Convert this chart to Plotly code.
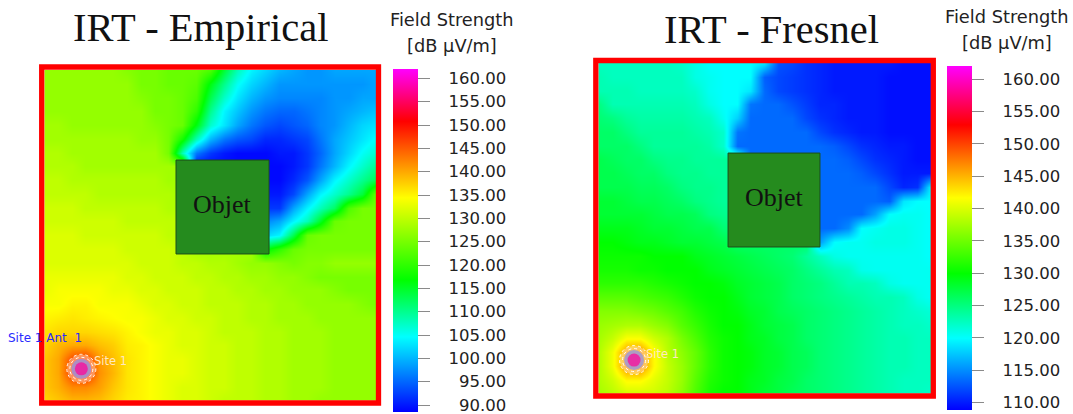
import plotly.graph_objects as go

W, H = 1073, 414
EMPIRICAL_TITLE = "IRT - Empirical"
FRESNEL_TITLE = "IRT - Fresnel"
COLORBAR_LINES = ["Field Strength", "[dB μV/m]"]

empirical_z = [
 [127,127,127,127,127,127,126,125,125,124,124,124,122,114,108,104,102,100,99,98,98,99,99,99,99],
 [127,127,127,127,127,127,127,125,125,124,124,123,116,110,105,102,100,98,98,98,98,98,98,98,99],
 [127,127,127,127,127,127,127,126,125,125,124,122,113,107,103,100,98,97,97,97,97,98,98,99,99],
 [127,127,127,127,127,127,127,127,125,125,124,120,110,104,101,98,96,95,95,96,97,98,99,100,101],
 [128,128,127,127,127,127,127,127,126,125,124,116,107,103,99,96,94,93,94,95,97,98,100,102,103],
 [128,128,128,128,128,128,128,127,127,125,118,108,100,96,94,93,91,91,92,93,96,99,101,103,105],
 [129,129,128,128,128,128,128,128,128,125,108,96,92,90,89,89,89,90,90,92,95,99,102,105,107],
 [129,129,129,128,128,128,128,128,128,128,128,89,89,89,89,89,89,89,90,92,96,100,104,107,110],
 [130,130,129,129,129,129,129,129,129,128,128,89,89,89,89,89,89,89,91,94,99,104,107,110,113],
 [130,130,130,130,129,129,129,129,129,129,128,90,90,90,90,90,90,90,93,99,104,107,110,114,124],
 [131,131,131,130,130,130,130,130,130,129,129,92,92,92,92,92,92,92,99,104,108,112,122,125,125],
 [131,131,131,131,131,131,130,130,130,130,130,97,97,97,97,97,97,99,104,108,115,124,125,125,125],
 [132,132,132,131,131,131,131,131,131,130,130,102,102,102,102,102,102,104,113,124,125,125,125,125,125],
 [132,132,132,132,132,132,131,131,131,131,130,128,128,128,128,128,116,120,124,125,125,125,125,125,125],
 [132,132,132,132,132,132,132,131,131,131,130,130,129,129,128,127,127,126,125,126,126,127,127,127,127],
 [133,133,133,133,133,133,132,132,131,131,131,130,130,129,129,128,128,127,127,126,125,125,125,125,125],
 [133,134,134,134,134,133,133,132,132,131,131,131,130,130,129,129,128,128,127,127,127,126,125,125,125],
 [134,134,135,135,134,134,134,133,132,132,131,131,130,130,130,129,129,128,128,127,127,127,127,126,125],
 [135,135.5,136,135.5,135,134.5,134,134,133,132,132,131,131,130,130,129,129,128,128,128,127,127,127,127,127],
 [136,137,137,137,136.5,136,135,134,133,133,132,132,131,130,130,130,129,129,128,128,128,127,127,127,127],
 [137,139,140,140,138.5,137.5,135.5,135,134,133,132,132,131,131,130,130,129,129,128,128,128,127,127,127,127],
 [138,140,146,147,141,138.5,136,135,134,133,133,132,131,131,130,130,129,129,128,128,128,127,127,127,127],
 [138,140,147,149,141.5,139,136,135,134,133,133,132,131,131,130,130,129,129,128,128,128,127,127,127,127],
 [138,139.5,142,142,140.5,138,136,135,134,133,132,132,131,131,130,130,129,129,128,128,128,127,127,127,127],
 [137,138,139,139,138.5,137,135.5,135,134,133,132,132,131,130,130,130,129,129,128,128,127,127,127,127,127],
]

fresnel_z = [
 [122.5,122.5,122.5,122.5,122.5,122.5,122,121,120,120,120,120,119,112.5,112,111,110.5,110,110,110,110,110,109.5,109.5,109.5],
 [123,122.5,122.5,122.5,122.5,122.5,122.5,121,120.5,120,120,120,113,112,111.5,111,110.5,110,110,110,110,109.5,109.5,109.5,109.5],
 [123,123,123,122.5,122.5,122.5,122.5,122,120.5,120,120,119,113.5,112,111.5,111,110.5,110,110,110,110,109.5,109.5,109.5,109.5],
 [125,123,123,123,123,123,123,122.5,121,120,120,114,113.5,113.5,112.5,111.5,110.5,110.5,110,110,110,109.5,109.5,109.5,109.5],
 [125.5,125,124,123.5,123.5,123.5,123.5,123,122.5,120.5,118,113.5,113.5,113.5,113.5,112,111,110.5,110,110,110,109.5,109.5,109.5,109.5],
 [126,126,125,124,124,124,124,123.5,123,122,114,113.5,113.5,113.5,113.5,113.5,112,111,110.5,110,110,109.5,109.5,109.5,109.5],
 [126,126,126,125,124,124,124,124,123.5,122,113.5,113.5,113.5,113.5,113.5,113.5,113.5,113,112,111,110.5,110,110,109.5,109.5],
 [127,126.5,126,126,125,124.5,124.5,124,124,124,124,113.5,113.5,113.5,113.5,113.5,113.5,113.5,113,112,111,110.5,110,109.5,109.5],
 [127,127,126.5,126,126,125,124.5,124.5,124,124,124,113.5,113.5,113.5,113.5,113.5,113.5,113.5,113.5,113,112,111,110,110,110],
 [127,127,127,126.5,126.5,126,125,124.5,124.5,124,124,113.5,113.5,113.5,113.5,113.5,113.5,113.5,113.5,113.5,113.5,112,110.5,111,120],
 [128,128,127.5,127,127,126.5,126,125,124.5,124,124,113.5,113.5,113.5,113.5,113.5,113.5,113.5,113.5,113.5,113.5,113,119,120,120],
 [128,128,128,128,127.5,127,127,126.5,125,124.5,124,113.5,113.5,113.5,113.5,113.5,113.5,113.5,113.5,113.5,116,120,120.5,120.5,120],
 [129,129,129,128.5,128,128,127.5,127,127,125.5,125,113.5,113.5,113.5,113.5,113.5,113.5,113.5,115,120,120.5,121,121,120.5,120],
 [130,130,129.5,129,129,128.5,128,128,127.5,127,126,126,126,126,126,126,116,120,120.5,120.5,121,121,121,120.5,120],
 [130.5,130.5,130.5,130.5,130,130,130,129,128.5,128,127.5,127,126.5,126,125.5,124,122.5,121,120.5,120.5,120.5,120.5,120.5,120.5,120],
 [131,131,131,130.5,130.5,130,130,130,129,128.5,128,127.5,127,126.5,126,125,124,123,122.5,120.8,120.5,120.5,120.5,120.5,120.5],
 [132,132,132,132,131.5,131,130.5,130,130,129.5,128.5,128,127.5,127,126,125.5,125,124,123,123,122.5,121,120.5,120.5,120.5],
 [134,134,134,133.5,133,132.5,131.5,130.5,130,130,129,128,127.5,127,126,125.5,125,124.5,124,123.5,123,123,122.5,121,120.3],
 [136,136,136,135.5,135,134,133,131.5,130.5,130,129.5,128.5,128,127,126.5,126,125.5,125,124.5,124,123.5,123,122.5,122,121.5],
 [137,137.5,138,138,137,136,134,132.5,131,130,130,129,128,127.5,127,126,125.5,125,124.5,124,123.5,123,122.5,122.5,122],
 [137.5,139,141.5,141.5,139.5,138,135.5,133.5,131.5,130.5,130,129,128.5,127.5,127,126,125.5,125,124.5,124,123.5,123,123,122.5,122.5],
 [138,141,146,146.5,142,138.5,136.5,134.5,132,130.5,130,129.5,128.5,128,127,126.5,125.5,125,124.5,124,123.5,123,123,122.5,122.5],
 [138,141,146.5,147,142,139,137,134.5,132,130.5,130,129.5,128.5,128,127,126.5,125.5,125,124.5,124,123.5,123,123,122.5,122.5],
 [138,139.5,142,142,140.5,139,137,134,131.5,130.5,130,129,128.5,127.5,127,126,125.5,125,124.5,124,123.5,123,122.5,122.5,122.5],
 [137.5,138.5,139.5,139.5,139.5,138.5,136.5,133.5,131,130,130,129,128,127.5,126.5,126,125.5,125,124.5,124,123.5,123,122.5,122.5,122],
]

empirical_ticks = [90, 95, 100, 105, 110, 115, 120, 125, 130, 135, 140, 145, 150, 155, 160]
fresnel_ticks = [110, 115, 120, 125, 130, 135, 140, 145, 150, 155, 160]
empirical_stops = [88.5, 104.6, 116.8, 134.4, 150.8, 162.0]
fresnel_stops = [108.9, 120.0, 130.0, 141.7, 153.0, 162.1]
stop_colors = ["#0000ff", "#00ffff", "#00ff00", "#ffff00", "#ff0000", "#ff00ff"]

empirical_site = (2.68, 21.7)
fresnel_site = (2.58, 21.57)
empirical_object = (9.53, 16.26, 6.54, 13.36)
fresnel_object = (9.36, 15.99, 6.54, 13.36)


def scale(stops):
    return [[(s - stops[0]) / (stops[-1] - stops[0]), c] for s, c in zip(stops, stop_colors)]


def label(v):
    text = f"{v:.2f}"
    return "\u00a0" * (3 if len(text) == 6 else 5) + text


def px(x):
    return x / W


def py(y):
    return 1 - y / H


panels = [
    dict(z=empirical_z, ticks=empirical_ticks, stops=empirical_stops, site=empirical_site, obj=empirical_object,
         title=EMPIRICAL_TITLE, title_xy=(200.5, 28), cb_x=452, cb_y=(20, 45), plot=(44.3, 376, 70, 400.5),
         frame=(41.7, 378.5, 67, 403), bar=(393, 69, 343), xa="x", ya="y",
         ant=(0.05, 19.46), sitelab=(4.8, 21.13)),
    dict(z=fresnel_z, ticks=fresnel_ticks, stops=fresnel_stops, site=fresnel_site, obj=fresnel_object,
         title=FRESNEL_TITLE, title_xy=(771, 30), cb_x=1006.5, cb_y=(17, 42), plot=(598.3, 931, 63, 393.5),
         frame=(595.8, 933.3, 60.5, 396), bar=(947, 65.5, 343.5), xa="x2", ya="y2",
         ant=(-0.1, 19.3), sitelab=(4.66, 21.13)),
]

fig = go.Figure()
shapes, annotations = [], []
SERIF = "Liberation Serif"
SANS = "DejaVu Sans"


def paper_text(text, x, y, font):
    return dict(text=text, xref="paper", yref="paper", x=px(x), y=py(y), xanchor="center", yanchor="middle",
                showarrow=False, font=font)


def data_text(p, text, x, y, font):
    return dict(text=text, xref=p["xa"], yref=p["ya"], x=x, y=y, xanchor="center", yanchor="middle",
                showarrow=False, font=font)


for n, p in enumerate(panels):
    x0, x1, y0, y1 = p["plot"]
    sfx = "" if n == 0 else "2"
    fig.update_layout({
        f"xaxis{sfx}": dict(domain=[px(x0), px(x1)], range=[0, 24], visible=False, anchor=p["ya"]),
        f"yaxis{sfx}": dict(domain=[py(y1), py(y0)], range=[24, 0], visible=False, anchor=p["xa"]),
    })
    bx, by, bl = p["bar"]
    fig.add_trace(go.Heatmap(
        z=p["z"], x=list(range(25)), y=list(range(25)), xaxis=p["xa"], yaxis=p["ya"],
        zsmooth="best", zmin=p["stops"][0], zmax=p["stops"][-1], colorscale=scale(p["stops"]),
        hoverinfo="skip",
        colorbar=dict(
            x=px(bx), xanchor="left", xpad=0, y=py(by), yanchor="top", ypad=0,
            thickness=25, thicknessmode="pixels", len=bl, lenmode="pixels",
            outlinewidth=0, borderwidth=0, tickmode="array", tickvals=p["ticks"],
            ticktext=[label(v) for v in p["ticks"]], ticks="outside", ticklen=12,
            ticklabeloverflow="allow",
            tickwidth=1, tickcolor="#8a8a8a", tickfont=dict(family=SANS, size=16.5, color="#222222"),
        ),
    ))
    sx, sy = p["site"]
    fig.add_trace(go.Scatter(
        x=[sx, sx, sx], y=[sy, sy, sy], xaxis=p["xa"], yaxis=p["ya"], mode="markers", hoverinfo="skip",
        showlegend=False,
        marker=dict(size=[28, 20, 13], color=["rgba(255,235,215,0.6)", "#8a90ee", "#ff0098"], line=dict(width=0)),
    ))
    fx0, fx1, fy0, fy1 = p["frame"]
    shapes.append(dict(type="rect", xref="paper", yref="paper", x0=px(fx0), x1=px(fx1), y0=py(fy1), y1=py(fy0),
                       line=dict(color="#ff0000", width=5.3), fillcolor="rgba(0,0,0,0)", layer="above"))
    ox0, ox1, oy0, oy1 = p["obj"]
    shapes.append(dict(type="rect", xref=p["xa"], yref=p["ya"], x0=ox0, x1=ox1, y0=oy0, y1=oy1,
                       line=dict(color="#1d4f1a", width=1), fillcolor="#258b1e", layer="above"))
    for r in (11.5, 14.5):
        shapes.append(dict(type="circle", xref=p["xa"], yref=p["ya"], xsizemode="pixel", ysizemode="pixel",
                           xanchor=sx, yanchor=sy, x0=-r, x1=r, y0=-r, y1=r, layer="above",
                           line=dict(color="#ffffff", width=1, dash="dot")))
    annotations += [
        paper_text(p["title"], p["title_xy"][0], p["title_xy"][1], dict(family=SERIF, size=40.5, color="#111111")),
        paper_text(COLORBAR_LINES[0], p["cb_x"], p["cb_y"][0], dict(family=SANS, size=17.8, color="#222222")),
        paper_text(COLORBAR_LINES[1], p["cb_x"], p["cb_y"][1], dict(family=SANS, size=17.8, color="#222222")),
        data_text(p, "Objet", (ox0 + ox1) / 2, (oy0 + oy1) / 2 - 0.2, dict(family=SERIF, size=26, color="#111111")),
        data_text(p, "Site 1 Ant  1", p["ant"][0], p["ant"][1], dict(family=SANS, size=12, color="#2a2aff")),
        data_text(p, "Site 1", p["sitelab"][0], p["sitelab"][1], dict(family=SANS, size=11.5, color="#ffe9c0")),
    ]

fig.update_layout(width=W, height=H, margin=dict(l=0, r=0, t=0, b=0, pad=0, autoexpand=False),
                  paper_bgcolor="#ffffff", plot_bgcolor="#ffffff", showlegend=False,
                  shapes=shapes, annotations=annotations)
fig.write_html("out.html", config=dict(displayModeBar=False),
               post_script="document.body.style.margin='0';document.body.style.overflow='hidden';")
